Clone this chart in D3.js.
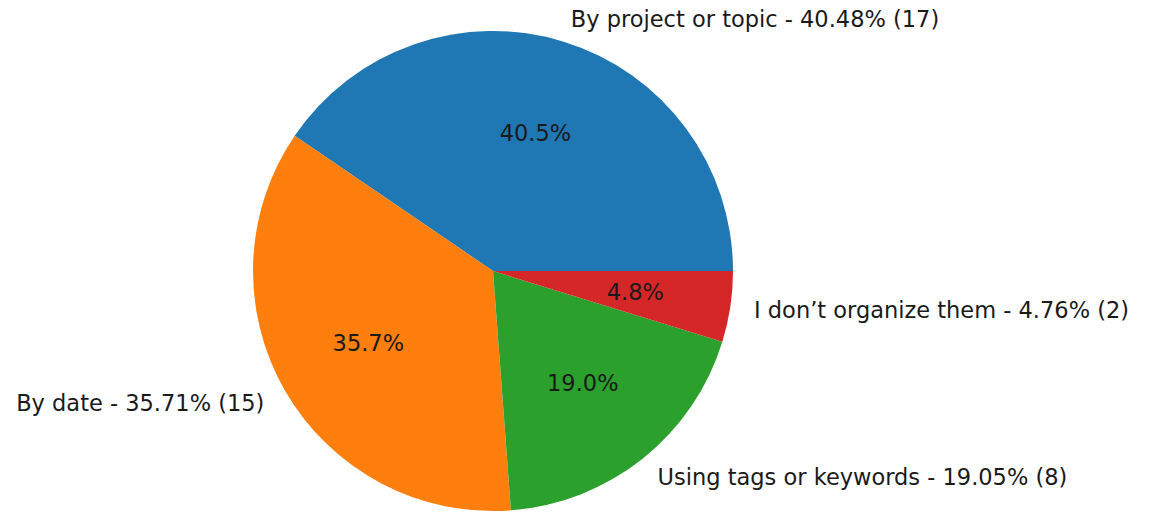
<!DOCTYPE html>
<html>
<head>
<meta charset="utf-8">
<script src="https://cdn.jsdelivr.net/npm/d3@7"></script>
<style>
  html, body { margin: 0; padding: 0; background: #fff; }
  svg { display: block; }
  text { font-family: "DejaVu Sans", sans-serif; fill: #1a1a1a; }
</style>
</head>
<body>
<svg id="chart" width="1160" height="512"></svg>
<script>
// Survey answers: how files are organized
const categories = [
  "By project or topic",
  "By date",
  "Using tags or keywords",
  "I don\u2019t organize them"
];
const counts = [17, 15, 8, 2];
const colors = ["#1f77b4", "#ff7f0e", "#2ca02c", "#d62728"];

const width = 1160, height = 512;
const cx = 493, cy = 271, radius = 240;
const fontSize = 22.5;

const svg = d3.select("#chart");
const g = svg.append("g").attr("transform", `translate(${cx},${cy})`);

const total = d3.sum(counts);
const data = categories.map((c, i) => ({ label: c, value: counts[i], color: colors[i] }));

// Wedges run counter-clockwise starting from 3 o'clock
const pie = d3.pie()
  .value(d => d.value)
  .sort(null)
  .startAngle(Math.PI / 2)
  .endAngle(Math.PI / 2 - 2 * Math.PI);

const arcs = pie(data);
const arc = d3.arc().innerRadius(0).outerRadius(radius);

g.selectAll("path.slice")
  .data(arcs)
  .join("path")
  .attr("class", "slice")
  .attr("d", arc)
  .attr("fill", d => d.data.color);

const polar = (a, r) => [r * Math.sin(a), -r * Math.cos(a)];

// Percent inside each wedge
g.selectAll("text.pct")
  .data(arcs)
  .join("text")
  .attr("class", "pct")
  .attr("x", d => polar((d.startAngle + d.endAngle) / 2, radius * 0.6)[0])
  .attr("y", d => polar((d.startAngle + d.endAngle) / 2, radius * 0.6)[1])
  .attr("dy", "0.35em")
  .attr("text-anchor", "middle")
  .attr("font-size", fontSize)
  .text(d => (d.value / total * 100).toFixed(1) + "%");

// Outer labels with percentage and count
g.selectAll("text.lbl")
  .data(arcs)
  .join("text")
  .attr("class", "lbl")
  .each(function (d) {
    const [x, y] = polar((d.startAngle + d.endAngle) / 2, radius * 1.1);
    d3.select(this)
      .attr("x", x)
      .attr("y", y)
      .attr("dy", "0.35em")
      .attr("text-anchor", x > 0 ? "start" : "end");
  })
  .attr("font-size", fontSize)
  .text(d => `${d.data.label} - ${(d.value / total * 100).toFixed(2)}% (${d.value})`);
</script>
</body>
</html>
